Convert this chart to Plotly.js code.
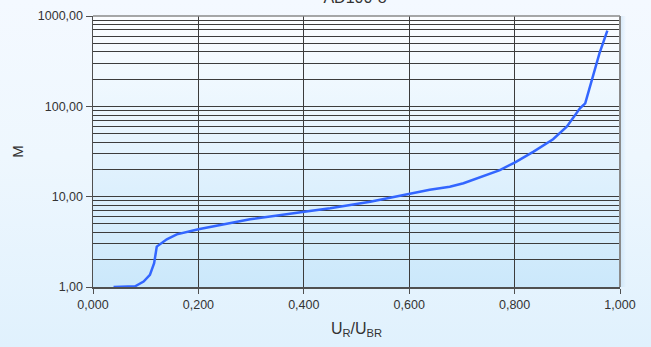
<!DOCTYPE html>
<html>
<head>
<meta charset="utf-8">
<script src="https://cdn.plot.ly/plotly-3.0.1.min.js"></script>
<style>
  html, body { margin: 0; padding: 0; }
  #wrap { position: relative; width: 651px; height: 347px;
          background: linear-gradient(to bottom, #f4f9ff 0%, #eef7fe 45%, #e0f1fd 100%); overflow: hidden; }
  #plotbg { position: absolute; left: 93px; top: 16px; width: 527px; height: 271px;
            background: linear-gradient(to bottom, #fbfdff 0%, #e6f4fe 45%, #cbe8fb 100%); }
  #shadow { position: absolute; left: 620px; top: 16px; width: 6px; height: 271px;
            background: linear-gradient(to right, rgba(190,220,245,0.6), rgba(190,220,245,0)); }
  #chart { position: absolute; left: 0; top: 0; width: 651px; height: 347px; }
</style>
</head>
<body>
<div id="wrap">
  <div id="plotbg"></div>
  <div id="shadow"></div>
  <div id="chart"></div>
</div>
<script>
const chartTitle = 'AD100-8';
const ratioUR = [0.039, 0.080, 0.096, 0.108, 0.116, 0.121, 0.140, 0.159, 0.200, 0.298, 0.401, 0.450, 0.526, 0.600, 0.639, 0.677, 0.703, 0.772, 0.801, 0.836, 0.873, 0.899, 0.910, 0.924, 0.934, 0.946, 0.961, 0.976];
const gainM   = [1.00, 1.02, 1.15, 1.36, 1.83, 2.80, 3.37, 3.83, 4.36, 5.61, 6.82, 7.43, 8.8, 10.7, 11.9, 12.9, 14.1, 19.7, 24.0, 31.5, 43.2, 59.5, 73.7, 95, 108, 187, 386, 688];

const trace = {
  x: ratioUR, y: gainM, type: 'scatter', mode: 'lines',
  line: { color: '#3366ff', width: 2.5 },
  hoverinfo: 'skip', showlegend: false
};

const tickFont = { family: 'Liberation Sans, Arial, sans-serif', size: 12.5, color: '#333333' };

const layout = {
  width: 651, height: 347,
  margin: { l: 93, r: 31, t: 16, b: 60 },
  paper_bgcolor: 'rgba(0,0,0,0)',
  plot_bgcolor: 'rgba(0,0,0,0)',
  separators: ', ',
  title: {
    text: chartTitle,
    font: { family: 'Liberation Sans, Arial, sans-serif', size: 16, color: '#333' },
    x: 355 / 651, xanchor: 'center',
    xref: 'container', yref: 'container',
    y: 1 - 3 / 347, yanchor: 'bottom', pad: { t: 0, b: 0 }
  },
  xaxis: {
    range: [0, 1], dtick: 0.2, tick0: 0, tickformat: '.3f',
    showgrid: true, gridcolor: '#3c3c3c', gridwidth: 1,
    showline: true, linecolor: '#505050', linewidth: 1.5,
    ticks: 'outside', ticklen: 5, tickcolor: '#505050',
    tickfont: tickFont, zeroline: false,
    title: { text: 'U<sub>R</sub>/U<sub>BR</sub>', font: { family: 'Liberation Sans, Arial, sans-serif', size: 16, color: '#333333' }, standoff: 12 }
  },
  yaxis: {
    type: 'log', range: [0, 3], dtick: 1, tickformat: '.2f',
    showgrid: true, gridcolor: '#3c3c3c', gridwidth: 1,
    minor: { dtick: 'D1', showgrid: true, gridcolor: '#3c3c3c', gridwidth: 1, ticks: '' },
    showline: true, linecolor: '#505050', linewidth: 1.5,
    ticks: 'outside', ticklen: 6, tickcolor: '#505050',
    tickfont: tickFont, zeroline: false,
    title: { text: 'M', font: { family: 'Liberation Sans, Arial, sans-serif', size: 15, color: '#333333' }, standoff: 10 }
  },
  shapes: [
    { type: 'line', xref: 'paper', yref: 'paper', x0: 1, x1: 1, y0: 0, y1: 1, line: { color: '#8a8a8a', width: 2 } },
    { type: 'line', xref: 'paper', yref: 'paper', x0: 0, x1: 1, y0: 1, y1: 1, line: { color: '#8a8a8a', width: 1.5 } }
  ]
};

Plotly.newPlot('chart', [trace], layout, { displayModeBar: false, staticPlot: true });
</script>
</body>
</html>
